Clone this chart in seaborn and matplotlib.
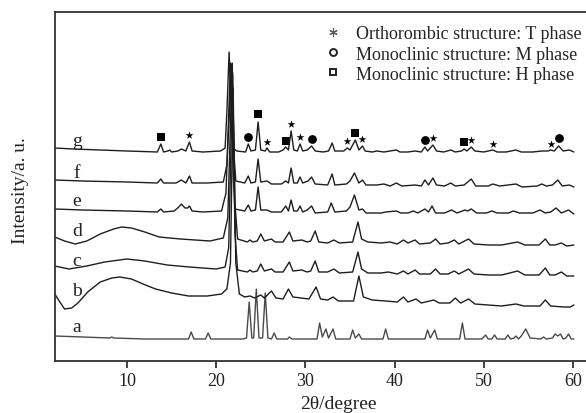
import matplotlib
matplotlib.use("Agg")
import matplotlib.pyplot as plt
from matplotlib.lines import Line2D
import seaborn as sns

# XRD patterns, 2theta in degrees, intensity relative to each trace's own baseline
a_x = [1.9, 5.0, 8.1, 8.3, 8.5, 12, 16.9, 17.2, 17.5, 18.8, 19.1, 19.4, 23.0, 23.4, 23.7, 24.0, 24.2,
       24.5, 24.8, 25.2, 25.5, 25.8, 26.2, 26.5, 26.8, 28.0, 28.2, 28.5, 31.3, 31.6, 31.9, 32.3, 32.6,
       33.1, 33.4, 35.0, 35.3, 35.6, 36.0, 36.3, 38.7, 39.0, 39.3, 43.4, 43.7, 44.0, 44.5, 44.8, 47.3,
       47.6, 47.9, 49.8, 50.2, 50.5, 50.9, 51.2, 51.5, 52.4, 52.7, 53.0, 53.4, 53.6, 53.9, 54.2, 54.7,
       55.2, 56.4, 56.7, 57.0, 57.7, 58.0, 58.3, 58.6, 58.9, 59.2, 59.5, 59.8, 60.1]
a_y = [3, 2, 1, 2, 1, 0, 0, 7, 0, 0, 6, 0, 0, 1, 37, 1, 1,
       50, 1, 1, 46, 1, 0, 6, 0, 0, 2, 0, 0, 16, 2, 10, 1,
       10, 0, 0, 9, 1, 5, 0, 0, 10, 0, 0, 9, 1, 9, 0, 0,
       16, 0, 0, 4, 0, 0, 4, 0, 0, 4, 0, 1, 3, 0, 3, 10,
       1, 0, 2, 0, 1, 5, 3, 5, 0, 1, 5, 0, 0]

b_x = [1.9, 2.4, 3.0, 3.8, 4.5, 5.6, 7.0, 8.3, 9.2, 10.5, 11.8, 13.2, 15.0, 16.9, 19.0, 20.6, 21.2,
       21.6, 21.9, 22.2, 22.6, 23.2, 23.8, 24.3, 25.0, 25.4, 26.2, 26.7, 27.5, 28.1, 28.6, 29.5, 30.4,
       31.2, 31.7, 32.5, 33.1, 33.7, 35.4, 36.0, 36.5, 37.5, 39.0, 40.3, 41.0, 41.5, 42.4, 43.0, 44.4,
       45.0, 46.2, 46.8, 47.4, 48.3, 49.0, 50.5, 52.0, 53.6, 54.5, 56.3, 56.9, 57.5, 59.0, 59.7, 60.1]
b_y = [9, 2, -6, -5, 0, 11, 21, 25, 26, 24, 19, 14, 10, 7, 7, 9, 14,
       40, 215, 40, 9, 6, 7, 5, 8, 5, 12, 5, 4, 14, 6, 5, 4,
       16, 4, 3, 6, 2, 2, 27, 6, 3, 2, 1, 6, 1, 4, 0, 3,
       0, 0, 5, 0, 4, -1, -2, -3, -1, -3, -3, 3, -3, -4, -4, -2]

c_x = [1.9, 3.5, 5.5, 7.5, 10.0, 12.0, 14.5, 17.0, 20.0, 21.0, 21.4, 21.85, 22.1, 22.4, 23.5, 23.8,
       24.1, 24.6, 25.0, 25.4, 26.2, 26.6, 27.5, 28.2, 28.6, 29.6, 30.2, 30.6, 31.1, 31.5, 32.5, 33.2,
       33.8, 35.3, 35.9, 36.3, 37.0, 38.5, 39.3, 40.3, 41.0, 41.5, 42.3, 42.8, 44.0, 44.6, 45.1, 46.0,
       46.7, 47.2, 48.3, 48.9, 50.5, 52.0, 53.8, 54.6, 56.2, 56.9, 57.4, 58.0, 58.7, 59.3, 60.1]
c_y = [7, 4, 7, 11, 14, 12, 8, 6, 4, 6, 25, 200, 40, 3, 1, 3,
       1, 2, 9, 2, 4, 1, 1, 11, 2, 3, 1, 2, 12, 1, 1, 4,
       0, 1, 21, 4, 0, 0, 1, -1, 2, -1, 3, -1, -1, 4, -1, -1,
       2, -1, 4, -1, -2, -2, 2, -2, -2, 5, -2, -2, 1, -3, -3]

d_x = [1.9, 3.0, 4.2, 5.5, 7.0, 8.5, 9.4, 10.5, 12.0, 13.6, 16.0, 19.3, 20.8, 21.3, 21.8, 22.1, 22.4,
       23.5, 23.8, 24.1, 24.6, 25.0, 25.4, 26.2, 26.6, 27.5, 28.2, 28.6, 29.6, 30.2, 30.6, 31.1, 31.5,
       32.5, 33.2, 33.8, 35.3, 35.9, 36.3, 37.0, 38.5, 39.5, 40.3, 41.0, 41.5, 42.3, 42.8, 44.0, 44.6,
       45.1, 46.0, 46.7, 47.2, 48.3, 48.9, 50.5, 52.0, 53.8, 54.6, 56.2, 56.9, 57.4, 58.0, 58.7, 59.3, 60.1]
d_y = [6, 2, -1, 2, 9, 14, 16, 15, 11, 6, 4, 2, 5, 25, 180, 40, 4,
       1, 3, 1, 2, 9, 2, 4, 1, 1, 11, 2, 3, 1, 2, 12, 1,
       0, 3, 0, 1, 21, 4, 1, 0, 1, -1, 3, 0, 3, -1, 0, 4,
       -1, 0, 3, -1, 4, -1, -2, -2, 1, -2, -2, 4, -2, -2, 0, -3, -2]

e_x = [1.9, 5, 10, 13.4, 13.8, 14.1, 15.3, 15.8, 16.1, 16.5, 16.8, 17.0, 17.3, 18.5, 20.6, 21.1, 21.6,
       21.9, 22.1, 23.2, 23.6, 23.9, 24.4, 24.7, 25.0, 25.7, 26.2, 27.3, 27.8, 28.1, 28.4, 28.7, 29.1,
       29.4, 29.7, 30.2, 30.7, 31.1, 32.5, 32.9, 33.3, 34.6, 35.0, 35.5, 36.0, 36.4, 36.8, 38.5, 39.0,
       40.2, 40.7, 41.5, 42.1, 42.6, 43.4, 43.8, 44.2, 44.6, 45.6, 46.4, 47.0, 47.9, 48.2, 48.6, 49.2,
       50.3, 50.9, 51.5, 52.8, 53.3, 54.0, 55.5, 56.3, 56.9, 57.5, 58.1, 58.7, 59.5, 60.1]
e_y = [4, 3, 2, 1, 4, 1, 2, 6, 9, 5, 5, 7, 2, 1, 2, 20, 150,
       40, 4, 2, 8, 2, 3, 26, 3, 3, 1, 1, 7, 2, 13, 2, 2,
       7, 1, 3, 7, 0, 1, 10, 1, 2, 6, 18, 3, 4, 0, 0, 1,
       2, 0, 0, 2, 0, 4, 1, 7, 0, 0, 3, 0, 3, 2, 4, 0,
       0, 2, 0, 0, 2, 0, 0, 3, 0, 1, 5, 0, 3, -1]

f_x = [1.9, 5, 10, 13.4, 13.8, 14.1, 15.5, 16.1, 16.6, 17.0, 17.3, 19, 20.8, 21.2, 21.75, 22.0, 22.2,
       23.2, 23.6, 23.9, 24.4, 24.7, 25.0, 25.7, 26.2, 27.3, 27.8, 28.1, 28.4, 28.7, 29.1, 29.4, 29.7,
       30.3, 30.7, 31.1, 32.5, 33.0, 33.3, 34.6, 35.0, 35.5, 36.0, 36.4, 36.8, 38, 38.8, 39.5, 40.2,
       40.8, 42.3, 43.0, 43.4, 43.8, 44.3, 44.7, 45.6, 46.3, 46.8, 47.8, 48.6, 49.1, 50.5, 51.0, 51.8,
       53.6, 54.3, 56, 56.5, 57.0, 57.7, 58.3, 58.8, 59.6, 60.1]
f_y = [5, 4, 3, 2, 6, 2, 2, 5, 2, 9, 2, 2, 3, 20, 121, 30, 4,
       2, 9, 2, 3, 26, 3, 4, 1, 1, 4, 2, 17, 2, 2, 8, 2,
       4, 8, 1, 0, 11, 0, 1, 4, 12, 2, 5, 0, 0, 1, -1, 2,
       -1, 0, -1, 5, 0, 7, 0, -1, 2, -1, 0, 6, -1, -1, 1, -1,
       1, -2, -1, 1, -1, 0, 5, -1, 0, -2]

g_x = [1.9, 4, 7, 10, 13.4, 13.8, 14.1, 14.6, 14.8, 15.0, 15.7, 16.1, 16.6, 17.0, 17.3, 18.5, 20.5,
       21.0, 21.2, 21.45, 21.7, 21.9, 22.3, 23.3, 23.6, 23.9, 24.4, 24.7, 25.0, 25.5, 25.7, 26.0, 27.0,
       27.5, 27.8, 28.1, 28.4, 28.7, 29.1, 29.4, 29.7, 30.2, 30.7, 31.1, 32.0, 32.6, 33.0, 33.3, 34.3,
       34.7, 35.0, 35.6, 36.0, 36.4, 36.7, 37.5, 38.0, 38.8, 39.5, 40.2, 40.6, 41.5, 42.3, 43.0, 43.4,
       43.7, 44.3, 44.7, 45.5, 46.3, 46.8, 47.5, 47.8, 48.1, 48.6, 49.0, 50.0, 51.0, 51.5, 52.5, 53.6,
       54.2, 55.5, 56.5, 57.2, 57.5, 57.9, 58.4, 58.9, 59.6, 60.1]
g_y = [4, 3, 2, 1, 0, 8, 0, 1, 2, 0, 1, 3, 1, 10, 1, 0, 1,
       4, 40, 100, 40, 4, 1, 0, 8, 1, 2, 30, 2, 1, 4, 0, 0,
       2, 5, 2, 21, 2, 1, 8, 1, 2, 6, 1, 0, 1, 9, 1, 1,
       4, 2, 12, 2, 6, 1, 0, 1, 0, 1, 2, 0, 0, 1, 0, 5,
       1, 7, 1, 0, 2, 0, 1, 3, 1, 5, 1, 0, 2, 0, 0, 2,
       0, 0, 1, 1, 2, 1, 6, 1, 2, 0]

trace_names = ["a", "b", "c", "d", "e", "f", "g"]
trace_x = [a_x, b_x, c_x, d_x, e_x, f_x, g_x]
trace_y = [a_y, b_y, c_y, d_y, e_y, f_y, g_y]
offsets = [22, 58, 88, 118, 148, 176, 209]

# phase markers above trace g (2theta, height above g baseline)
t_phase_x = [17.0, 25.7, 28.4, 29.4, 34.7, 36.4, 44.3, 48.6, 51.0, 57.5]
t_phase_y = [17, 10, 28, 15, 11, 13, 14, 12, 8, 8]
m_phase_x = [23.6, 30.7, 43.4, 58.4]
m_phase_y = [15, 13, 12, 14]
h_phase_x = [13.8, 24.7, 27.8, 35.6, 47.8]
h_phase_y = [15, 38, 11, 19, 10]

sns.set_style("white")
plt.rcParams["font.family"] = ["Liberation Serif", "DejaVu Serif"]

fig = plt.figure(figsize=(5.86, 4.14), dpi=100)
ax = fig.add_axes([55 / 586, 52 / 414, 531 / 586, 349 / 414])

for name, xs, ys, off in zip(trace_names, trace_x, trace_y, offsets):
    col = "#4a4a4a" if name == "a" else "#1e1e1e"
    sns.lineplot(x=xs, y=[v + off for v in ys], ax=ax, color=col, lw=1.0,
                 estimator=None, sort=False)
    ax.text(4.4, off + 12, name, fontsize=14, ha="center", va="center", color="#222")

g_off = offsets[-1]
sns.scatterplot(x=t_phase_x, y=[v + g_off for v in t_phase_y], ax=ax, marker="*",
                s=35, color="black", linewidth=0)
sns.scatterplot(x=m_phase_x, y=[v + g_off for v in m_phase_y], ax=ax, marker="o",
                s=40, color="black", linewidth=0)
sns.scatterplot(x=h_phase_x, y=[v + g_off for v in h_phase_y], ax=ax, marker="s",
                s=30, color="black", linewidth=0)

ax.set_xlim(1.93, 61.46)
ax.set_ylim(0, 349)
ax.set_xticks([10, 20, 30, 40, 50, 60])
ax.set_yticks([])
ax.tick_params(axis="x", direction="out", length=5, width=1.2, labelsize=13,
               colors="#222", bottom=True, pad=3)
for side in ["left", "top", "bottom"]:
    ax.spines[side].set_linewidth(1.3)
    ax.spines[side].set_color("#333")
ax.spines["right"].set_visible(False)

ax.set_xlabel("2θ/degree", fontsize=14, color="#222")
ax.xaxis.set_label_coords((338 - 55) / 531, -0.098)
ax.set_ylabel("Intensity/a. u.", fontsize=14, color="#222")
ax.yaxis.set_label_coords(-0.049, 0.49)

handles = [
    Line2D([], [], ls="none", marker=(6, 2, 0), ms=6, mew=0.8, color="#555"),
    Line2D([], [], ls="none", marker="o", ms=5, mew=1.4, mfc="white", mec="#222"),
    Line2D([], [], ls="none", marker="s", ms=5, mew=1.4, mfc="white", mec="#222"),
]
labels = ["Orthorombic structure: T phase", "Monoclinic structure: M phase",
          "Monoclinic structure: H phase"]
ax.legend(handles, labels, loc="upper left", bbox_to_anchor=(0.507, 0.962), frameon=False,
          fontsize=13, borderpad=0, borderaxespad=0, handlelength=1.0, handletextpad=0.75,
          labelspacing=0.18)

fig.savefig("out.png", dpi=100)
